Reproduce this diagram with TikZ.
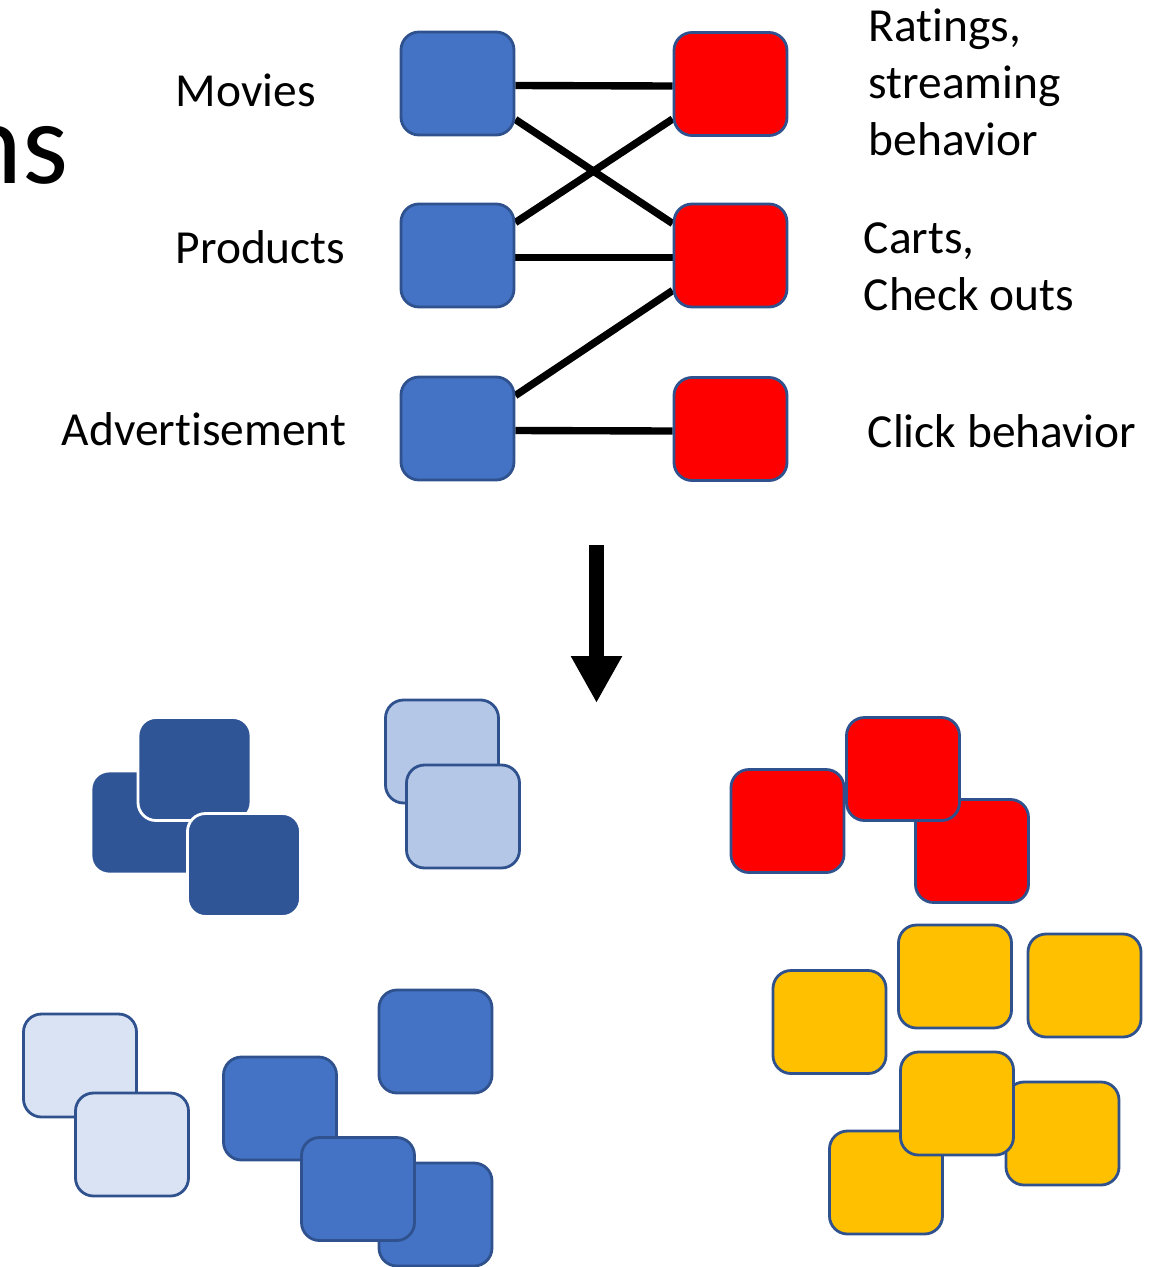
\documentclass[tikz,border=0pt]{standalone}
\usepackage{fontspec}
\setmainfont[Ligatures=NoCommon]{Carlito}
\usetikzlibrary{arrows.meta}
\usetikzlibrary{backgrounds}

\begin{document}
\begin{tikzpicture}[tile/.style={
      rectangle,
      rounded corners=0.18cm,
      draw=bord,
      line width=0.8pt,
      minimum width=1.13cm,
      minimum height=1.03cm,
      inner sep=0pt
    },
    lbl/.style={font=\fontsize{13.5}{16.1}\selectfont, inner sep=0pt, align=left},
    link/.style={line width=2.1pt, draw=black}]
\definecolor{bord}{RGB}{47,82,143}
\definecolor{mblue}{RGB}{68,114,196}
\definecolor{dblue}{RGB}{47,85,151}
\definecolor{lblue}{RGB}{180,199,231}
\definecolor{pblue}{RGB}{218,227,243}
\definecolor{mred}{RGB}{255,0,0}
\definecolor{myellow}{RGB}{255,192,0}

\useasboundingbox (0,0) rectangle (11.6,-12.67);

\node[anchor=base east, inner sep=0pt, font=\fontsize{33.5}{40}\selectfont] (title) at (0.69,-1.83) {ns};

\node[tile, fill=mblue] (b1) at (4.575,-0.835) {};
\node[tile, fill=mblue] (b2) at (4.575,-2.555) {};
\node[tile, fill=mblue] (b3) at (4.575,-4.285) {};
\node[tile, fill=mred] (r1) at (7.305,-0.84) {};
\node[tile, fill=mred] (r2) at (7.305,-2.555) {};
\node[tile, fill=mred] (r3) at (7.305,-4.29) {};

\node[lbl, anchor=base west] (movies) at (1.75,-1.06) {Movies};
\node[lbl, anchor=base west] (products) at (1.75,-2.63) {Products};
\node[lbl, anchor=base west] (adv) at (0.61,-4.45) {Advertisement};
\node[lbl, anchor=base west] (ratings) at (8.68,-1.55) {Ratings,\\streaming\\behavior};
\node[lbl, anchor=base west] (carts) at (8.63,-3.10) {Carts,\\Check outs};
\node[lbl, anchor=base west] (click) at (8.67,-4.47) {Click behavior};

\begin{scope}[on background layer]
\draw[link] ([yshift=-0.02cm]b1.east) -- ([yshift=-0.02cm]r1.west);
\draw[link] ([yshift=-0.02cm]b2.east) -- ([yshift=-0.02cm]r2.west);
\draw[link] ([yshift=-0.02cm]b3.east) -- ([yshift=-0.02cm]r3.west);
\draw[link] ([yshift=-0.36cm]b1.east) -- ([yshift=0.32cm]r2.west);
\draw[link] ([yshift=0.33cm]b2.east) -- ([yshift=-0.35cm]r1.west);
\draw[link] ([yshift=0.33cm]b3.east) -- ([yshift=-0.35cm]r2.west);
\end{scope}

\coordinate (arrtop) at (5.965,-5.45);
\coordinate (arrtip) at (5.965,-7.03);
\draw[line width=0.15cm, -{Triangle[length=4.7mm,width=4.8mm]}] (arrtop) -- (arrtip);

\node[tile, fill=dblue, draw=white] (d1) at (1.475,-8.225) {};
\node[tile, fill=dblue, draw=white] (d2) at (1.945,-7.69) {};
\node[tile, fill=dblue, draw=white] (d3) at (2.44,-8.65) {};

\node[tile, fill=lblue] (l1) at (4.42,-7.515) {};
\node[tile, fill=lblue] (l2) at (4.63,-8.165) {};

\node[tile, fill=pblue] (p1) at (0.80,-10.655) {};
\node[tile, fill=pblue] (p2) at (1.32,-11.445) {};

\node[tile, fill=mblue] (m1) at (2.80,-11.085) {};
\node[tile, fill=mblue] (m2) at (4.355,-10.415) {};
\node[tile, fill=mblue] (m3) at (4.355,-12.145) {};
\node[tile, fill=mblue] (m4) at (3.58,-11.89) {};

\node[tile, fill=mred] (c1) at (7.875,-8.21) {};
\node[tile, fill=mred] (c2) at (9.72,-8.51) {};
\node[tile, fill=mred] (c3) at (9.03,-7.69) {};

\node[tile, fill=myellow] (y1) at (8.295,-10.22) {};
\node[tile, fill=myellow] (y2) at (9.55,-9.765) {};
\node[tile, fill=myellow] (y3) at (10.845,-9.855) {};
\node[tile, fill=myellow] (y4) at (8.86,-11.825) {};
\node[tile, fill=myellow] (y5) at (10.625,-11.335) {};
\node[tile, fill=myellow] (y6) at (9.57,-11.035) {};

\end{tikzpicture}
\end{document}
